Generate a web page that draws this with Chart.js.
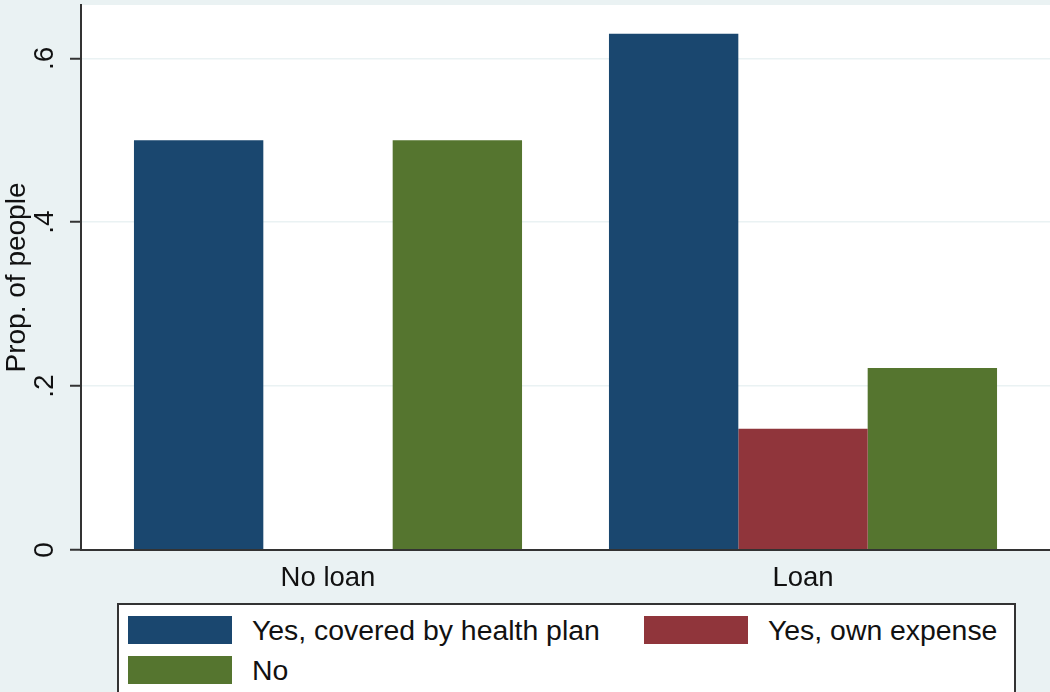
<!DOCTYPE html>
<html>
<head>
<meta charset="utf-8">
<script src="https://cdn.jsdelivr.net/npm/chart.js@4.4.1/dist/chart.umd.min.js"></script>
<style>
  html, body { margin: 0; padding: 0; background: #eaf2f3; }
  #wrap { position: relative; width: 1050px; height: 692px; overflow: hidden; }
  #legend {
    position: absolute; left: 117px; top: 603px; width: 899px; height: 120px;
    background: #fff; border: 2px solid #333;
    display: grid; grid-template-columns: 516px 370px; grid-auto-rows: 28px; row-gap: 12px;
    padding: 11px 0 0 9px; box-sizing: border-box;
    font-family: "Liberation Sans", Arial, sans-serif; font-size: 28.4px; color: #111;
  }
  .item { display: flex; align-items: center; }
  .swatch { width: 104px; height: 28px; margin-right: 20px; flex: none; }
</style>
</head>
<body>
<div id="wrap">
  <canvas id="chart" width="1050" height="692"></canvas>
  <div id="legend"></div>
</div>
<script>
// data
const categories = ['No loan', 'Loan'];
const categoryPositions = [1, 2];
const coveredByPlan = [0.5, 0.63];
const ownExpense = [0, 0.148];
const noCover = [0.5, 0.222];
const yTicks = [0, 0.2, 0.4, 0.6];
const yTickLabels = ['0', '.2', '.4', '.6'];
const seriesNames = ['Yes, covered by health plan', 'Yes, own expense', 'No'];
const seriesColors = ['#1a476f', '#90353b', '#55752f'];

const textColor = '#111';
const fontFamily = '"Liberation Sans", Arial, sans-serif';

function points(values) {
  return categoryPositions.map((x, i) => ({ x: x, y: values[i] }));
}

const plotBackground = {
  id: 'plotBackground',
  beforeDraw(chart) {
    const { ctx, chartArea } = chart;
    ctx.save();
    ctx.fillStyle = '#eaf2f3';
    ctx.fillRect(0, 0, chart.width, chart.height);
    ctx.fillStyle = '#ffffff';
    ctx.fillRect(chartArea.left, chartArea.top, chartArea.right - chartArea.left, chartArea.bottom - chartArea.top);
    ctx.restore();
  }
};

const series = [coveredByPlan, ownExpense, noCover];

const chart = new Chart(document.getElementById('chart'), {
  type: 'bar',
  data: {
    datasets: series.map((vals, i) => ({
      label: seriesNames[i],
      data: points(vals),
      backgroundColor: seriesColors[i],
      borderWidth: 0,
      categoryPercentage: 0.817,
      barPercentage: 1
    }))
  },
  options: {
    responsive: false,
    animation: false,
    devicePixelRatio: 1,
    layout: { padding: { top: 5, left: 0, right: 0, bottom: 0 } },
    plugins: { legend: { display: false }, tooltip: { enabled: false } },
    scales: {
      x: {
        type: 'linear',
        offset: false,
        min: 0.48,
        max: 2.52,
        afterBuildTicks: s => { s.ticks = categoryPositions.map(v => ({ value: v })); },
        afterFit: s => { s.height = 142; s.paddingLeft = 0; s.paddingRight = 0; },
        ticks: {
          callback: (v, i) => categories[i],
          font: { family: fontFamily, size: 27.5 },
          color: textColor,
          padding: 12,
          maxRotation: 0,
          autoSkip: false
        },
        grid: { display: false, drawTicks: false },
        border: { color: '#333', width: 2, z: 1 }
      },
      y: {
        min: 0,
        max: 0.665,
        afterBuildTicks: s => { s.ticks = yTicks.map(v => ({ value: v })); },
        afterFit: s => { s.width = 81; s.paddingTop = 0; s.paddingBottom = 0; },
        ticks: {
          callback: (v, i) => yTickLabels[i],
          font: { family: fontFamily, size: 28 },
          color: textColor,
          minRotation: 90,
          maxRotation: 90,
          crossAlign: 'center',
          padding: 13
        },
        grid: { color: '#eaf2f3', lineWidth: 1.5, tickColor: '#333', tickLength: 11, tickWidth: 2 },
        border: { color: '#333', width: 2, z: 1 },
        title: {
          display: true,
          text: 'Prop. of people',
          font: { family: fontFamily, size: 28 },
          color: textColor,
          padding: { top: 0, bottom: 0 }
        }
      }
    }
  },
  plugins: [plotBackground]
});

// legend in Stata order: two columns, filled row by row
const legend = document.getElementById('legend');
chart.data.datasets.forEach(ds => {
  const item = document.createElement('div');
  item.className = 'item';
  const sw = document.createElement('span');
  sw.className = 'swatch';
  sw.style.background = ds.backgroundColor;
  const txt = document.createElement('span');
  txt.textContent = ds.label;
  item.appendChild(sw);
  item.appendChild(txt);
  legend.appendChild(item);
});
</script>
</body>
</html>
